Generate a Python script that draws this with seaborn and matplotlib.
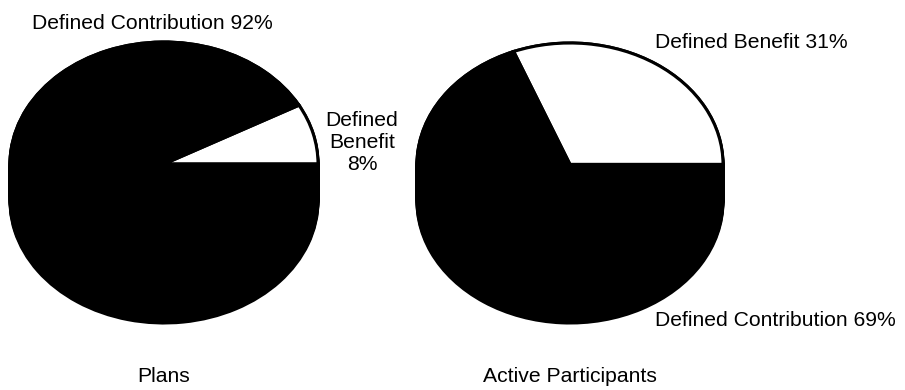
"""
Two pie charts: pension plans and active participants by plan type.
"""

import matplotlib
matplotlib.use("Agg")
import matplotlib.pyplot as plt
import seaborn as sns
import numpy as np

sns.set_style("white")
plt.rcParams['font.family'] = ['Liberation Sans', 'DejaVu Sans']

# Data (percent shares)
plan_types = ['Defined Benefit', 'Defined Contribution']
plans_share = [8, 92]
participants_share = [31, 69]
slice_colors = ['white', 'black']
panel_titles = ['Plans', 'Active Participants']

W, H = 905, 390
FONT = 15.2


def px_box(left, right, top, bottom):
    """Convert a pixel box (y from top) to figure fractions."""
    return [left / W, (H - bottom) / H, (right - left) / W, (bottom - top) / H]


def draw_pie(ax, values, depth):
    """Draw a tilted pie with a black side wall of given depth (in radius units)."""
    # side wall: stack of black copies shifted downwards
    for k in np.linspace(depth, 0, 25):
        wedges, _ = ax.pie(values, colors=['black', 'black'], startangle=0,
                           counterclock=True, center=(0, -k),
                           wedgeprops=dict(edgecolor='black', linewidth=2.2))
        for w in wedges:
            w.set_clip_on(False)
    wedges, _ = ax.pie(values, colors=slice_colors, startangle=0,
                       counterclock=True, center=(0, 0),
                       wedgeprops=dict(edgecolor='black', linewidth=2.2))
    for w in wedges:
        w.set_clip_on(False)
    ax.set_aspect('auto')
    ax.set_xlim(-1, 1)
    ax.set_ylim(-1 - depth, 1)
    ax.axis('off')


fig = plt.figure(figsize=(W / 100, H / 100), dpi=100)

# Left pie: plans
ax1 = fig.add_axes(px_box(10, 318, 42, 323))
draw_pie(ax1, plans_share, 37 / 122)

# Right pie: active participants
ax2 = fig.add_axes(px_box(417, 723, 43, 323))
draw_pie(ax2, participants_share, 37 / 121)


def fig_text(x, y, s, **kw):
    fig.text(x / W, (H - y) / H, s, fontsize=FONT, color='black', **kw)


# Slice labels
fig_text(32, 29, f'{plan_types[1]} {plans_share[1]}%', ha='left', va='baseline')
fig_text(362, 142, f'Defined\nBenefit\n{plans_share[0]}%', ha='center', va='center',
         multialignment='center')
fig_text(655, 48, f'{plan_types[0]} {participants_share[0]}%', ha='left', va='baseline')
fig_text(655, 326, f'{plan_types[1]} {participants_share[1]}%', ha='left', va='baseline')

# Panel titles
fig_text(164, 382, panel_titles[0], ha='center', va='baseline')
fig_text(570, 382, panel_titles[1], ha='center', va='baseline')

fig.savefig('out.png', dpi=100, facecolor='white')
plt.close(fig)
